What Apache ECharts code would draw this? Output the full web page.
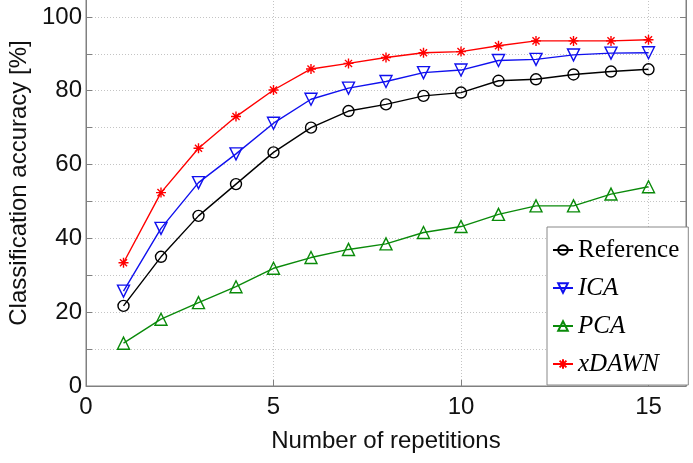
<!DOCTYPE html>
<html>
<head>
<meta charset="utf-8">
<script src="https://cdn.jsdelivr.net/npm/echarts@6/dist/echarts.min.js"></script>
<style>
  html, body { margin: 0; padding: 0; background: #ffffff; }
  #chart { width: 693px; height: 463px; }
</style>
</head>
<body>
<div id="chart"></div>
<script>
// Classification accuracy [%] against the number of repetitions
const repetitions = [1, 2, 3, 4, 5, 6, 7, 8, 9, 10, 11, 12, 13, 14, 15];
const reference = [21.7, 35.0, 46.1, 54.7, 63.3, 70.0, 74.5, 76.3, 78.6, 79.5, 82.7, 83.1, 84.4, 85.2, 85.8];
const ica       = [25.7, 42.7, 55.1, 62.9, 71.2, 77.7, 80.7, 82.5, 84.9, 85.6, 88.2, 88.5, 89.7, 90.2, 90.3];
const pca       = [11.6, 18.1, 22.6, 26.9, 31.9, 34.8, 37.0, 38.5, 41.6, 43.2, 46.5, 48.8, 48.8, 52.0, 54.0];
const xdawn     = [33.4, 52.4, 64.4, 73.0, 80.2, 85.9, 87.4, 89.0, 90.3, 90.6, 92.2, 93.5, 93.5, 93.5, 93.8];

const seriesNames = ['Reference', 'ICA', 'PCA', 'xDAWN'];
const xTickLabels = [0, 5, 10, 15];
const yTickLabels = [0, 20, 40, 60, 80, 100];

const pairs = vals => repetitions.map((r, i) => [r, vals[i]]);

const SANS = "'Liberation Sans', Arial, Helvetica, sans-serif";
const SERIF = "'Liberation Serif', 'Times New Roman', serif";
const AXIS_GREY = '#808080';
const GRID_GREY = '#c4c4c4';

const asterisk = 'path://M5,0L5,10M0,5L10,5M1.46,1.46L8.54,8.54M1.46,8.54L8.54,1.46';

function lineSeries(name, vals, color, symbol, size, rotate) {
  return {
    name: name,
    type: 'line',
    data: pairs(vals),
    symbol: symbol,
    symbolSize: size,
    symbolRotate: rotate || 0,
    showAllSymbol: true,
    lineStyle: { color: color, width: 1.4 },
    itemStyle: { color: 'rgba(255,255,255,0)', borderColor: color, borderWidth: 1.4 },
    emphasis: { disabled: true },
    animation: false
  };
}

const chart = echarts.init(document.getElementById('chart'), null, { renderer: 'canvas' });

chart.setOption({
  backgroundColor: '#ffffff',
  animation: false,
  grid: {
    left: 86, right: 7, top: -20, bottom: 77,
    show: true, borderColor: AXIS_GREY, borderWidth: 1,
    containLabel: false, outerBoundsMode: 'none'
  },
  xAxis: {
    type: 'value',
    min: 0, max: 16, interval: 5,
    name: 'Number of repetitions',
    nameLocation: 'middle',
    nameGap: 43,
    nameTextStyle: { fontFamily: SANS, fontSize: 24, color: '#111' },
    axisLine: { show: true, lineStyle: { color: AXIS_GREY, width: 1 } },
    axisTick: { show: true, inside: true, length: 6, lineStyle: { color: AXIS_GREY } },
    axisLabel: {
      margin: 9, fontFamily: SANS, fontSize: 24, color: '#111',
      formatter: v => (xTickLabels.indexOf(v) >= 0 ? String(v) : '')
    },
    splitLine: { show: true, showMinLine: false, showMaxLine: false,
      lineStyle: { color: GRID_GREY, type: [1, 2], width: 1 } }
  },
  yAxis: [{
    type: 'value',
    min: 0, max: 110, interval: 10,
    name: 'Classification accuracy [%]',
    nameLocation: 'middle',
    nameGap: 49,
    nameTextStyle: { fontFamily: SANS, fontSize: 24, color: '#111' },
    axisLine: { show: true, lineStyle: { color: AXIS_GREY, width: 1 } },
    axisTick: { show: true, inside: true, length: 6, lineStyle: { color: AXIS_GREY } },
    axisLabel: {
      margin: 4, fontFamily: SANS, fontSize: 24, color: '#111',
      formatter: v => (yTickLabels.indexOf(v) >= 0 ? String(v) : '')
    },
    splitLine: { show: true, showMinLine: false,
      lineStyle: { color: GRID_GREY, type: [1, 2], width: 1 } }
  }, {
    type: 'value',
    position: 'right',
    min: 0, max: 110, interval: 10,
    axisLine: { show: true, lineStyle: { color: AXIS_GREY, width: 1 } },
    axisTick: { show: true, inside: true, length: 6, lineStyle: { color: AXIS_GREY } },
    axisLabel: { show: false },
    splitLine: { show: false }
  }],
  legend: {
    data: seriesNames,
    orient: 'vertical',
    left: 547, top: 227,
    padding: [10, 9, 8, 5],
    itemWidth: 20, itemHeight: 12,
    itemGap: 12,
    backgroundColor: '#ffffff',
    borderColor: '#888888', borderWidth: 1,
    selectedMode: false,
    textStyle: {
      fontFamily: SERIF, fontSize: 25, color: '#000', lineHeight: 26,
      rich: {
        r: { fontFamily: SERIF, fontSize: 25, fontStyle: 'normal', color: '#000' },
        i: { fontFamily: SERIF, fontSize: 25, fontStyle: 'italic', color: '#000' }
      }
    },
    formatter: n => (n === 'Reference' ? '{r|' + n + '}' : '{i|' + n + '}')
  },
  series: [
    lineSeries('Reference', reference, '#000000', 'circle', 11),
    lineSeries('ICA', ica, '#1010ee', 'triangle', 12, 180),
    lineSeries('PCA', pca, '#0a8a0a', 'triangle', 12),
    lineSeries('xDAWN', xdawn, '#ff0000', asterisk, 10)
  ]
});
</script>
</body>
</html>
